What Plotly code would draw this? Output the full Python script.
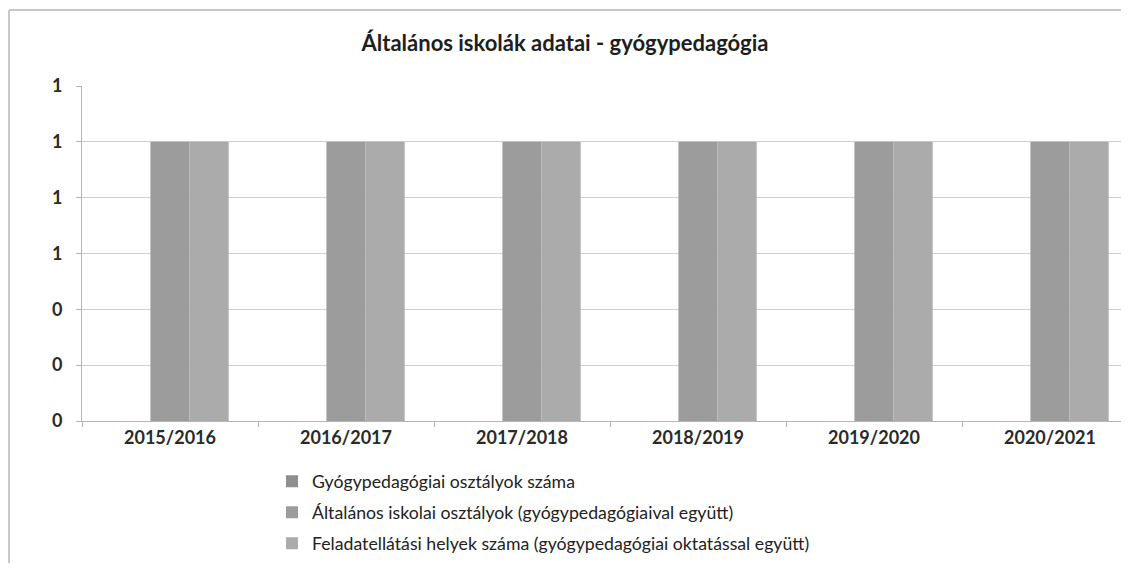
import plotly.graph_objects as go

categories = ["2015/2016", "2016/2017", "2017/2018", "2018/2019", "2019/2020", "2020/2021"]
series_names = [
    "Gyógypedagógiai osztályok száma",
    "Általános iskolai osztályok (gyógypedagógiaival együtt)",
    "Feladatellátási helyek száma (gyógypedagógiai oktatással együtt)",
]
gyogy_osztalyok = [0, 0, 0, 0, 0, 0]
altalanos_osztalyok = [1, 1, 1, 1, 1, 1]
feladatellatasi_helyek = [1, 1, 1, 1, 1, 1]
y_ticks = [0, 0.2, 0.4, 0.6, 0.8, 1.0, 1.2]

colors = ["#8f8f8f", "#9c9c9c", "#ababab"]
values = [gyogy_osztalyok, altalanos_osztalyok, feladatellatasi_helyek]

fig = go.Figure()
for i, (name, vals) in enumerate(zip(series_names, values)):
    fig.add_trace(go.Bar(
        x=categories, y=vals, name=name,
        marker=dict(color=colors[i], line=dict(width=0)),
        legendgroup=f"g{i}",
    ))

FONT = "Lato"
W, H = 1113, 555
plot_w = W - 74
fig.update_layout(
    width=W, height=H,
    margin=dict(l=74, r=0, t=78, b=142, autoexpand=False),
    paper_bgcolor="white", plot_bgcolor="white",
    barmode="group", bargap=0.333, bargroupgap=0,
    title=dict(text="<b>Általános iskolák adatai - gyógypedagógia</b>",
               x=(565 - 8 - 74) / plot_w, xref="paper", xanchor="center",
               y=1 - 35 / H, yanchor="middle",
               font=dict(family=FONT, size=22, color="#1e1e1e")),
    showlegend=True,
    legend=dict(x=(264 - 74) / plot_w, xanchor="left", y=-0.126, yanchor="top",
                orientation="v", tracegroupgap=5,
                font=dict(family=FONT, size=17.7, color="#222222"),
                bgcolor="rgba(0,0,0,0)", itemwidth=30),
    xaxis=dict(type="category", range=[-0.5, -0.5 + plot_w / 176],
               showline=True, linecolor="#b5b5b5", linewidth=1,
               tickson="boundaries", ticks="outside", ticklen=5, tickcolor="#b5b5b5",
               showgrid=False,
               tickfont=dict(family=FONT, size=18, color="#2a2a2a", weight="bold")),
    yaxis=dict(range=[0, 1.2], tickvals=y_ticks, tickformat=".0f",
               showline=True, linecolor="#b5b5b5", linewidth=1,
               ticks="outside", ticklen=5, tickcolor="#b5b5b5",
               showgrid=True, gridcolor="#cfcfcf", gridwidth=1,
               zeroline=False, ticklabelstandoff=10,
               tickfont=dict(family=FONT, size=18, color="#2a2a2a", weight="bold")),
    shapes=[
        dict(type="line", xref="paper", yref="paper",
             x0=-73 / plot_w, x1=1.05, y0=1 + 76 / 335, y1=1 + 76 / 335,
             line=dict(color="#c8c8c8", width=2)),
        dict(type="line", xref="paper", yref="paper",
             x0=-73 / plot_w, x1=-73 / plot_w, y0=1 + 76 / 335, y1=-0.5,
             line=dict(color="#c8c8c8", width=2)),
    ],
)

fig.write_html("out.html")
